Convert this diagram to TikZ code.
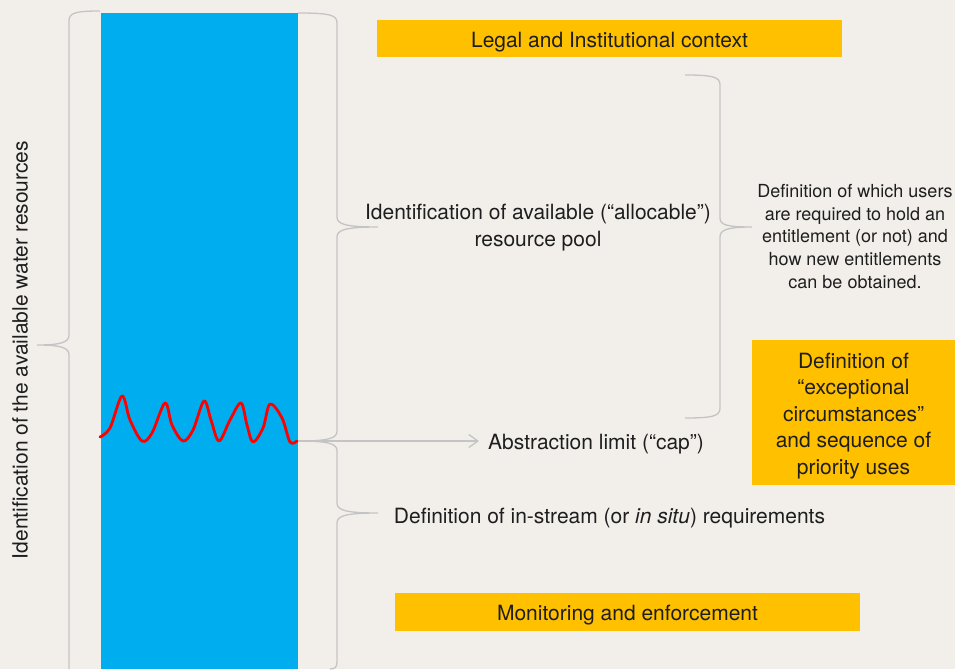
\documentclass[tikz,border=0pt]{standalone}
\usepackage{fontspec}
\setmainfont{TeX Gyre Heros}
\usetikzlibrary{arrows.meta}
\definecolor{bg}{HTML}{F2EFEB}
\definecolor{water}{HTML}{00AEEF}
\definecolor{amber}{HTML}{FFC000}
\definecolor{bracegray}{HTML}{C4C4C4}
\definecolor{ink}{HTML}{1E1E1E}
\begin{document}
\begin{tikzpicture}[x=1pt,y=-1pt,
  bigtext/.style={font=\fontsize{21}{26.5}\selectfont, text=ink, align=center, inner sep=0pt},
  smalltext/.style={font=\fontsize{18}{22.8}\selectfont, text=ink, align=center, inner sep=0pt},
  amberbox/.style={fill=amber, inner sep=0pt},
  boxlabel/.style={bigtext, yshift=-3.5pt},
  bracestyle/.style={draw=bracegray, line width=1.3pt},
  wave/.style={draw=red, line width=2.8pt, line cap=round, line join=round}]
\useasboundingbox (0,0) rectangle (955,669);
\fill[bg] (0,0) rectangle (955,669);
% water column
\fill[water] (101,13) rectangle (298,669);
% wave (cap level)
\draw[wave] plot[smooth, tension=0.55] coordinates {(100,437) (110,428) (122,396) (130,420) (142,441) (152,433) (165,403) (172,425) (183,441) (193,430) (204,401) (211,420) (219,441) (230,420) (241,403) (247,425) (253,442) (263,428) (270,404) (282,418) (290,442) (297,441)};
% braces
\draw[bracestyle] (100,11) .. controls (75,11) and (69,13) .. (69,21) -- (69,335) .. controls (69,342) and (62,345) .. (37,345) .. controls (62,345) and (69,348) .. (69,355) -- (69,669);
\draw[bracestyle] (298,13) .. controls (330,13) and (337,15) .. (337,23) -- (337,217) .. controls (337,224) and (345,227) .. (378,227) .. controls (345,227) and (337,230) .. (337,237) -- (337,431) .. controls (337,438) and (330,441) .. (298,441);
\draw[bracestyle] (298,441) .. controls (330,441) and (337,444) .. (337,451) -- (337,503) .. controls (337,510) and (345,513) .. (378,513) .. controls (345,513) and (337,516) .. (337,523) -- (337,662) .. controls (337,667) and (335,669) .. (330,669);
\draw[bracestyle] (685,75) .. controls (713,75) and (720,77) .. (720,85) -- (720,218) .. controls (720,225) and (727,227) .. (752,227) .. controls (727,227) and (720,230) .. (720,237) -- (720,408) .. controls (720,416) and (713,418) .. (685,418);
% texts
\node[bigtext, rotate=90] (resources) at (20,350) {Identification of the available water resources};
\node[amberbox, minimum width=465pt, minimum height=37pt,
      label={[boxlabel]center:Legal and Institutional context}] (legal) at (609.5,38.5) {};
\node[bigtext] (pool) at (538,227.5) {Identification of available (“allocable”)\\resource pool};
\node[smalltext] (users) at (855,236.5) {Definition of which users\\are required to hold an\\entitlement (or not) and\\how new entitlements\\can be obtained.};
\node[amberbox, minimum width=203pt, minimum height=145pt,
      label={[boxlabel]center:Definition of\\“exceptional\\circumstances”\\and sequence of\\priority uses}] (exceptional) at (853.5,412.5) {};
\node[bigtext] (cap) at (596,444.5) {Abstraction limit (“cap”)};
\node[bigtext] (instream) at (609.5,518) {Definition of in-stream (or \textit{in situ}) requirements};
\node[amberbox, minimum width=465pt, minimum height=38pt,
      label={[boxlabel]center:Monitoring and enforcement}] (monitoring) at (627.5,612) {};
% arrow from cap level to label
\coordinate (capstart) at (298,441);
\draw[draw=bracegray, line width=1.3pt, -{Straight Barb[length=9pt,width=13pt]}] (capstart) -- ([xshift=-9pt]capstart -| cap.west);
\end{tikzpicture}
\end{document}
